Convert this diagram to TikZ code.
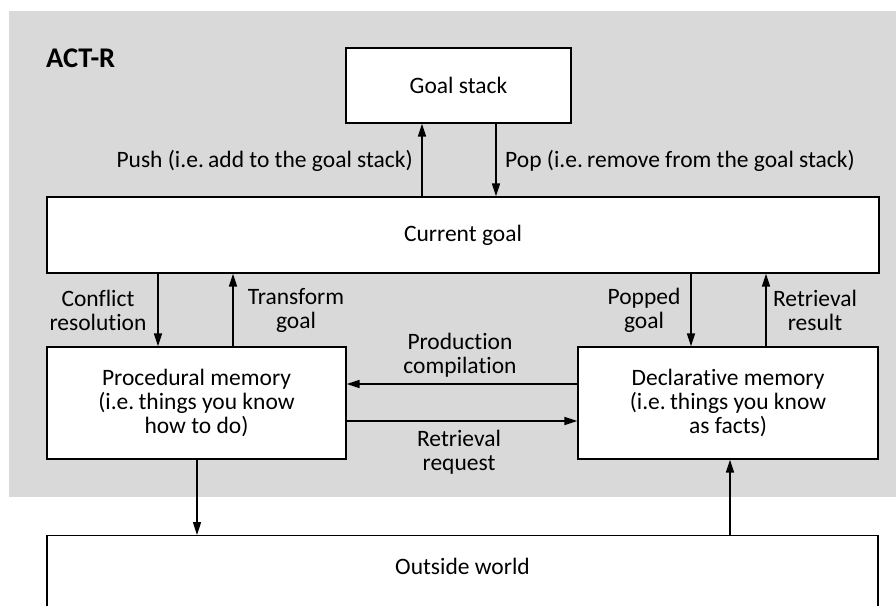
\documentclass[tikz,border=0pt]{standalone}
\usepackage{fontspec}
\setmainfont{Carlito}[Ligatures={NoCommon}]
\usetikzlibrary{arrows.meta}
\definecolor{panelgrey}{RGB}{217,217,217}
\newcommand{\ie}{i.e.\hspace{0.18em}}
\begin{document}
\begin{tikzpicture}[x=1pt,y=-1pt,
  box/.style={draw=black, line width=1.2pt, fill=white, inner sep=0pt,
    font=\fontsize{23.5}{24}\selectfont, align=center},
  lbl/.style={font=\fontsize{23.5}{24}\selectfont, align=center, inner sep=0pt},
  arr/.style={line width=1.6pt, -{Triangle[length=13pt,width=8pt]}}]
\useasboundingbox (0,0) rectangle (896,605);
\fill[panelgrey] (9,11) rectangle (896,497);
\node[lbl, font=\fontsize{28.5}{28.5}\selectfont\bfseries, anchor=west] (actr) at (46,58) {ACT-R};
% boxes
\node[box, minimum width=225, minimum height=75] (gs) at (458.5,85.5) {Goal stack};
\node[box, minimum width=832, minimum height=76] (cg) at (463,235) {Current goal};
\node[box, minimum width=299, minimum height=112] (pm) at (196.5,403) {Procedural memory\\(\ie things you know\\how to do)};
\node[box, minimum width=300, minimum height=112] (dm) at (728,403) {Declarative memory\\(\ie things you know\\as facts)};
\node[box, minimum width=831, minimum height=80, anchor=north] (ow) at (462.5,535) {};
\node[lbl] (owt) at (462.5,566) {Outside world};
% columns / rows
\coordinate (xpush) at (422,0);
\coordinate (xpop) at (496,0);
\coordinate (xconf) at (158,0);
\coordinate (xtrans) at (233,0);
\coordinate (xpopd) at (691,0);
\coordinate (xres) at (766,0);
\coordinate (xout) at (197,0);
\coordinate (xin) at (730,0);
\coordinate (yprod) at (0,384);
\coordinate (yret) at (0,421);
% connectors
\draw[arr] (cg.north -| xpush) -- (gs.south -| xpush);
\draw[arr] (gs.south -| xpop) -- (cg.north -| xpop);
\draw[arr] (cg.south -| xconf) -- (pm.north -| xconf);
\draw[arr] (pm.north -| xtrans) -- (cg.south -| xtrans);
\draw[arr] (cg.south -| xpopd) -- (dm.north -| xpopd);
\draw[arr] (dm.north -| xres) -- (cg.south -| xres);
\draw[arr] (dm.west |- yprod) -- (pm.east |- yprod);
\draw[arr] (pm.east |- yret) -- (dm.west |- yret);
\draw[arr] (pm.south -| xout) -- (ow.north -| xout);
\draw[arr] (ow.north -| xin) -- (dm.south -| xin);
% labels
\node[lbl, anchor=east] (lpush) at (413,161) {Push (\ie add to the goal stack)};
\node[lbl, anchor=west] (lpop) at (505,161) {Pop (\ie remove from the goal stack)};
\node[lbl] (lconf) at (98,310) {Conflict\\resolution};
\node[lbl] (ltrans) at (296,310) {Transform\\goal};
\node[lbl] (lpopd) at (644,310) {Popped\\goal};
\node[lbl] (lres) at (815,310) {Retrieval\\result};
\node[lbl] (lprod) at (460,355) {Production\\compilation};
\node[lbl] (lret) at (459,452) {Retrieval\\request};
\end{tikzpicture}
\end{document}
